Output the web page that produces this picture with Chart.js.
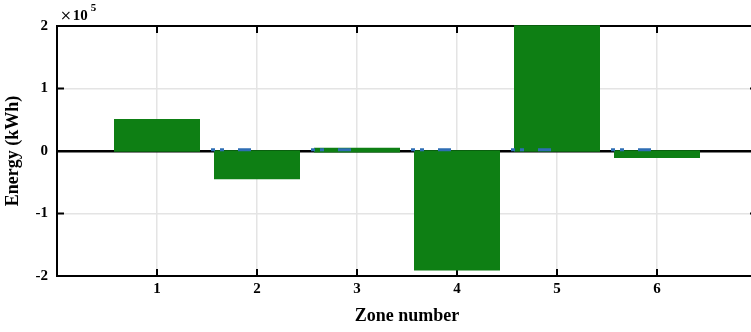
<!DOCTYPE html>
<html>
<head>
<meta charset="utf-8">
<script src="https://cdn.jsdelivr.net/npm/chart.js@4/dist/chart.umd.min.js"></script>
<style>
  html, body { margin: 0; padding: 0; background: #fff; overflow: hidden; }
  #wrap { width: 770px; height: 332px; }
</style>
</head>
<body>
<div id="wrap"><canvas id="c" width="770" height="332"></canvas></div>
<script>
// Net energy per zone (kWh)
const zones = [1, 2, 3, 4, 5, 6];
const zoneLabels = ['1', '2', '3', '4', '5', '6'];
const energy = [48000, -42000, 1000, -188000, 198000, -8000];

// Reference level per zone (dash-dot marks)
const refZones = [2, 3, 4, 5, 6];
const refEnergy = [2000, 2000, 2000, 2000, 2000];

// Y ticks, in units of 1e5 kWh
const yTicks = [-2, -1, 0, 1, 2];
const yScaleFactor = 1e5;

const FONT = "'Liberation Serif', 'Times New Roman', serif";
const GREEN = '#0e7f14';
const BLUE = '#2e6db4';

// each reference mark runs over the left part of its zone slot
const refStart = -0.46, refEnd = -0.06;
const refPoints = [];
refZones.forEach((z, i) => {
  refPoints.push({ x: z + refStart, y: refEnergy[i] });
  refPoints.push({ x: z + refEnd, y: refEnergy[i] });
  refPoints.push({ x: z, y: null });
});

// Boxed axes with inward tick marks and the exponent note
const framePlugin = {
  id: 'frame',
  beforeDatasetsDraw(chart) {
    const { ctx, chartArea: a, scales: { x, y } } = chart;
    ctx.save();
    ctx.strokeStyle = '#000';
    ctx.lineWidth = 2;
    ctx.strokeRect(a.left, a.top, a.right - a.left, a.bottom - a.top);
    const tl = 7;
    ctx.beginPath();
    zones.forEach(v => {
      const px = x.getPixelForValue(v);
      ctx.moveTo(px, a.bottom); ctx.lineTo(px, a.bottom - tl);
      ctx.moveTo(px, a.top); ctx.lineTo(px, a.top + tl);
    });
    yTicks.forEach(v => {
      const py = y.getPixelForValue(v * yScaleFactor);
      ctx.moveTo(a.left, py); ctx.lineTo(a.left + tl, py);
      ctx.moveTo(a.right, py); ctx.lineTo(a.right - tl, py);
    });
    ctx.stroke();
    ctx.restore();
  },
  afterDraw(chart) {
    const { ctx, chartArea: a } = chart;
    ctx.save();
    ctx.fillStyle = '#000';
    ctx.textBaseline = 'alphabetic';
    ctx.textAlign = 'left';
    let x0 = a.left + 3;
    const base = a.top - 6;
    ctx.font = '14px "DejaVu Sans", sans-serif';
    ctx.fillText('\u00d7', x0, base);
    x0 += ctx.measureText('\u00d7').width + 1;
    ctx.font = 'bold 15px ' + FONT;
    ctx.fillText('10', x0, base);
    x0 += ctx.measureText('10').width + 3;
    ctx.font = 'bold 11px ' + FONT;
    ctx.fillText('5', x0, a.top - 15);
    ctx.restore();
  }
};

new Chart(document.getElementById('c'), {
  type: 'bar',
  data: {
    datasets: [
      {
        type: 'line',
        data: refPoints,
        borderColor: BLUE,
        borderWidth: 3,
        borderDash: [4, 5, 4, 14, 13, 100],
        borderCapStyle: 'butt',
        pointRadius: 0,
        spanGaps: false,
        fill: false,
        order: 1
      },
      {
        type: 'bar',
        data: zones.map((z, i) => ({ x: z, y: energy[i] })),
        backgroundColor: GREEN,
        borderWidth: 0,
        inflateAmount: 2,
        barPercentage: 1,
        categoryPercentage: 0.82,
        clip: 4,
        order: 2
      }
    ]
  },
  options: {
    responsive: false,
    animation: false,
    events: [],
    layout: { padding: { top: 26, right: 13, left: 0, bottom: 0 } },
    plugins: { legend: { display: false }, tooltip: { enabled: false } },
    scales: {
      x: {
        type: 'linear',
        min: 0,
        max: 7,
        offset: false,
        afterBuildTicks: s => { s.ticks = zones.map(v => ({ value: v })); },
        afterFit: s => { s.height = 56; },
        grid: { offset: false, drawTicks: false, color: '#e4e4e4', lineWidth: 1.5 },
        border: { display: false },
        ticks: {
          padding: 4,
          color: '#000',
          font: { family: FONT, size: 15, weight: 'bold' },
          callback: v => zoneLabels[zones.indexOf(v)] ?? ''
        },
        title: {
          display: true,
          text: 'Zone number',
          color: '#000',
          font: { family: FONT, size: 18, weight: 'bold' },
          padding: { top: 0, bottom: 5 }
        }
      },
      y: {
        min: -2 * yScaleFactor,
        max: 2 * yScaleFactor,
        afterBuildTicks: s => { s.ticks = yTicks.map(v => ({ value: v * yScaleFactor })); },
        afterFit: s => { s.width = 57; },
        grid: {
          drawTicks: false,
          color: c => c.tick && c.tick.value === 0 ? '#000' : (Math.abs(c.tick ? c.tick.value : 0) === 2 * yScaleFactor ? 'rgba(0,0,0,0)' : '#e4e4e4'),
          lineWidth: c => c.tick && c.tick.value === 0 ? 2.5 : 1.5
        },
        border: { display: false },
        ticks: {
          padding: 9,
          color: '#000',
          font: { family: FONT, size: 15, weight: 'bold' },
          callback: v => String(v / yScaleFactor)
        },
        title: {
          display: true,
          text: 'Energy (kWh)',
          color: '#000',
          font: { family: FONT, size: 18, weight: 'bold' },
          padding: { top: 3, bottom: 0 }
        }
      }
    }
  },
  plugins: [framePlugin]
});
</script>
</body>
</html>
